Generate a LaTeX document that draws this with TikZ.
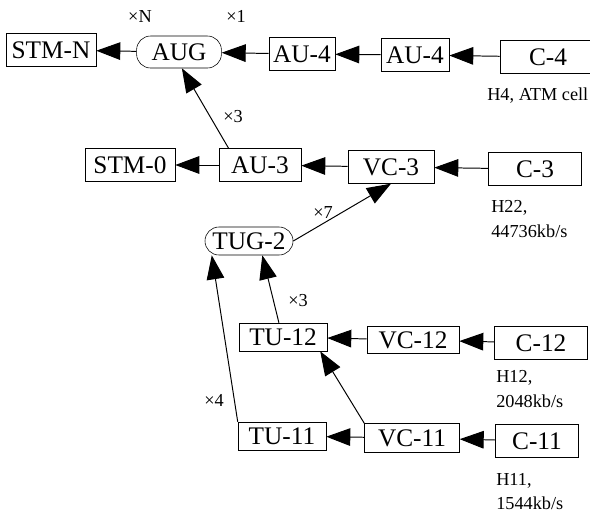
\documentclass[tikz,border=0pt]{standalone}
\usepackage{fontspec}
\setmainfont{Liberation Serif}
\usetikzlibrary{arrows.meta}

\begin{document}
\begin{tikzpicture}[x=0.025cm, y=-0.025cm,
  every node/.style={font=\fontsize{18}{20}\selectfont},
  box/.style={draw, minimum height=0.82cm, inner sep=0pt},
  grp/.style={draw, rounded corners=0.35cm, minimum height=0.75cm, inner sep=0pt},
  note/.style={font=\fontsize{13}{17.5}\selectfont, align=left, anchor=north west, inner sep=0pt},
  mult/.style={font=\fontsize{13}{15}\selectfont},
  arrow/.style={-{Triangle[length=0.6cm, width=0.44cm]}, line width=0.7pt}
]
  \useasboundingbox (0,0) rectangle (590,514);

  % top row
  \node[box, minimum width=2.25cm] (stmn) at (51,50) {STM-N};
  \node[grp, minimum width=2.12cm, minimum height=0.8cm] (aug) at (179,52) {AUG};
  \node[box, minimum width=1.65cm] (aua) at (302,54) {AU-4};
  \node[box, minimum width=1.7cm] (aub) at (415,55) {AU-4};
  \node[box, minimum width=2.4cm] (cfour) at (548,57) {C-4};

  % second row
  \node[box, minimum width=2.25cm] (stmzero) at (130,165) {STM-0};
  \node[box, minimum width=2.05cm] (authree) at (260,165) {AU-3};
  \node[box, minimum width=2.15cm] (vcthree) at (391,167) {VC-3};
  \node[box, minimum width=2.33cm] (cthree) at (535,169) {C-3};

  \node[grp, minimum width=2.2cm, minimum height=0.7cm] (tug) at (249,241) {TUG-2};

  % lower rows
  \node[box, minimum width=2.2cm, minimum height=0.7cm] (tutwelve) at (283,337) {TU-12};
  \node[box, minimum width=2.3cm, minimum height=0.68cm] (vctwelve) at (413,340) {VC-12};
  \node[box, minimum width=2.33cm] (ctwelve) at (541,343) {C-12};
  \node[box, minimum width=2.2cm, minimum height=0.7cm] (tueleven) at (282,436) {TU-11};
  \node[box, minimum width=2.37cm, minimum height=0.72cm] (vceleven) at (412,438) {VC-11};
  \node[box, minimum width=2.08cm] (celeven) at (537,441) {C-11};

  % multiplexing factors
  \node[mult] (xn) at (140,17) {×N};
  \node[mult] (xone) at (236,16) {×1};
  \node[mult] (xthreea) at (233,117) {×3};
  \node[mult] (xseven) at (323,213) {×7};
  \node[mult] (xthreeb) at (298,301) {×3};
  \node[mult] (xfour) at (214,400) {×4};

  % notes
  \node[note] (hfour) at (487,88) {H4, ATM cell};
  \node[note] (htwentytwo) at (491,200) {H22,\\44736kb/s};
  \node[note] (htwelve) at (496,370) {H12,\\2048kb/s};
  \node[note] (heleven) at (496,473) {H11,\\1544kb/s};

  \draw[arrow] (aug) -- (stmn);
  \draw[arrow] (aua) -- (aug);
  \draw[arrow] (aub) -- (aua);
  \draw[arrow] (cfour) -- (aub);
  \draw[arrow] (authree) -- (stmzero);
  \draw[arrow] (vcthree) -- (authree);
  \draw[arrow] (cthree) -- (vcthree);
  \draw[arrow] (authree.152) -- (aug.-80);
  \draw[arrow] (tug.east) -- (vcthree.south);
  \draw[arrow] (tutwelve.106) -- (tug.-47);
  \draw[arrow] (tueleven.north west) -- (tug.-159);
  \draw[arrow] (vceleven.north west) -- (tutwelve.-21);
  \draw[arrow] (vctwelve) -- (tutwelve);
  \draw[arrow] (ctwelve) -- (vctwelve);
  \draw[arrow] (vceleven) -- (tueleven);
  \draw[arrow] (celeven) -- (vceleven);
\end{tikzpicture}
\end{document}
